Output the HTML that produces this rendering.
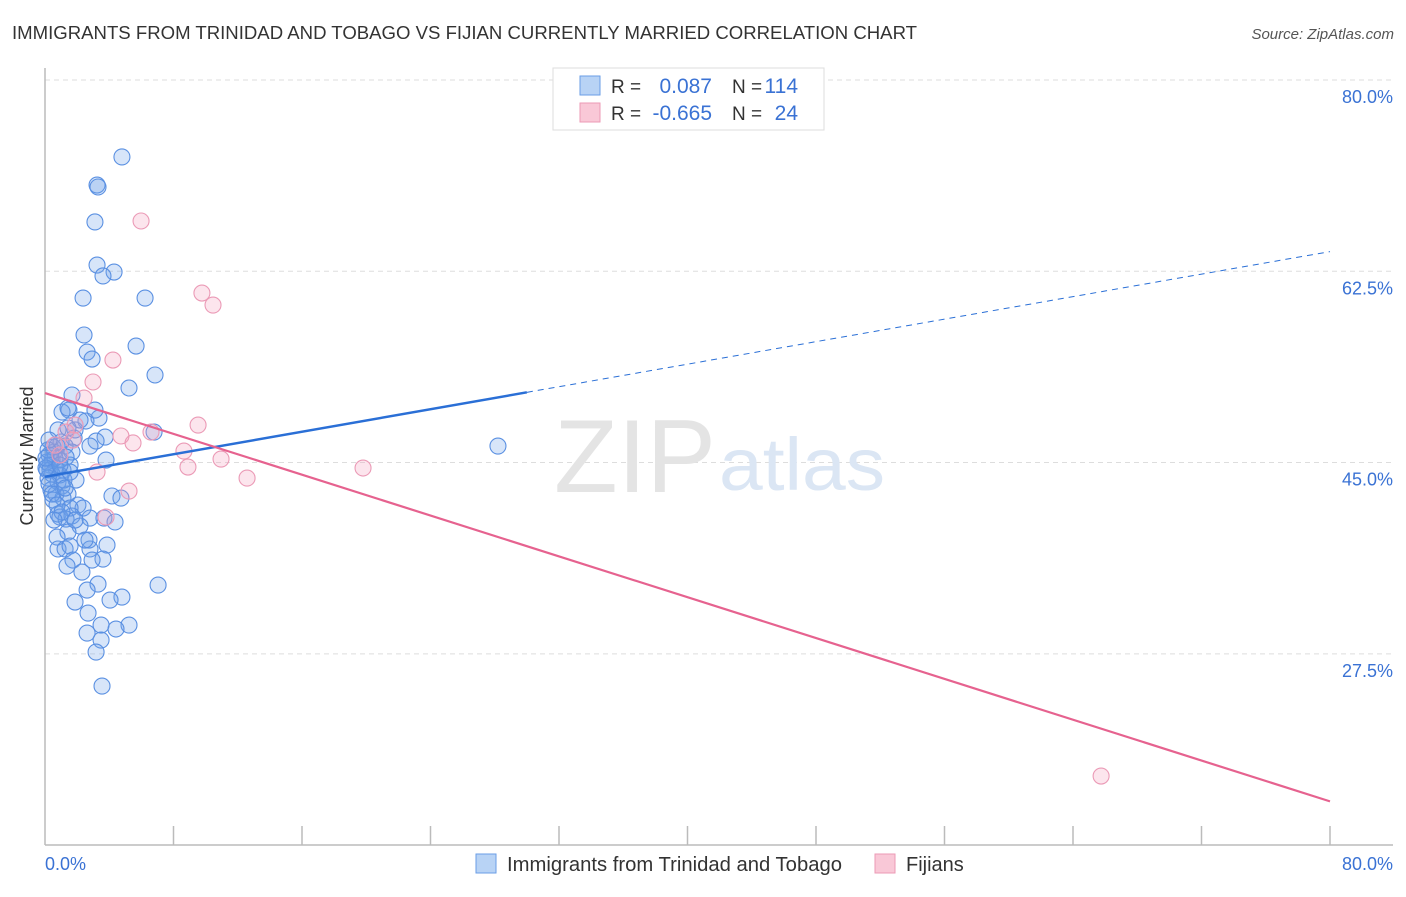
<!DOCTYPE html>
<html><head><meta charset="utf-8"><style>
body{margin:0;background:#fff;font-family:"Liberation Sans",sans-serif;}
svg text{font-family:"Liberation Sans",sans-serif;}
</style></head><body>
<svg id="chart" width="1406" height="892" xmlns="http://www.w3.org/2000/svg">
<text x="12" y="39" font-size="18" fill="#333" textLength="905" lengthAdjust="spacingAndGlyphs">IMMIGRANTS FROM TRINIDAD AND TOBAGO VS FIJIAN CURRENTLY MARRIED CORRELATION CHART</text>
<text x="1394" y="39" font-size="15" fill="#555" font-style="italic" text-anchor="end">Source: ZipAtlas.com</text>
<g id="grid"></g>
<text x="716" y="492" font-size="104" fill="#e4e4e4" text-anchor="end" font-family="Liberation Serif" textLength="162" lengthAdjust="spacingAndGlyphs">ZIP</text>
<text x="719" y="490" font-size="74" fill="#dbe6f4" textLength="166" lengthAdjust="spacingAndGlyphs">atlas</text>
<g id="axes"></g>
<g id="marks"></g>
<text transform="translate(33,456) rotate(-90)" font-size="18" fill="#333" text-anchor="middle">Currently Married</text>
<g>
<rect x="553" y="68" width="271" height="62" fill="#fff" stroke="#ddd"/>
<rect x="580" y="76" width="20" height="19" fill="#b8d3f5" stroke="#6a9ee6"/>
<rect x="580" y="103" width="20" height="19" fill="#f9c8d7" stroke="#ec9ab6"/>
<text x="611" y="93" font-size="19" fill="#333">R =</text>
<text x="712" y="93" font-size="21" fill="#3a72d4" text-anchor="end">0.087</text>
<text x="732" y="93" font-size="19" fill="#333">N =</text>
<text x="798" y="93" font-size="21" fill="#3a72d4" text-anchor="end">114</text>
<text x="611" y="120" font-size="19" fill="#333">R =</text>
<text x="712" y="120" font-size="21" fill="#3a72d4" text-anchor="end">-0.665</text>
<text x="732" y="120" font-size="19" fill="#333">N =</text>
<text x="798" y="120" font-size="21" fill="#3a72d4" text-anchor="end">24</text>
</g>
<g>
<rect x="476" y="854" width="20" height="19" fill="#b8d3f5" stroke="#6a9ee6"/>
<text x="507" y="871" font-size="20" fill="#333" textLength="335" lengthAdjust="spacingAndGlyphs">Immigrants from Trinidad and Tobago</text>
<rect x="875" y="854" width="20" height="19" fill="#f9c8d7" stroke="#ec9ab6"/>
<text x="906" y="871" font-size="20" fill="#333">Fijians</text>
</g>
</svg>
<script>
const yTicks=[80,62.5,45,27.5];
const xTickLabels=["0.0%","80.0%"];
const blueX=[4.79,3.24,3.3,3.11,3.24,4.3,3.61,2.37,6.23,2.43,5.67,2.62,2.93,6.85,5.23,1.68,1.49,1.06,1.43,3.36,2.55,6.79,1.81,3.74,3.18,2.8,0.75,1.25,28.2,0.56,1.68,0.25,0.44,0.93,3.8,0.31,1.56,0.68,0.12,1.12,0.44,0.19,1.93,0.81,1.06,0.37,0.68,1.43,1.12,4.17,4.73,0.5,2.05,2.37,1.56,0.81,0.93,1.68,2.8,3.67,4.36,1.31,2.18,1.43,0.75,2.74,3.86,0.81,1.25,2.8,1.56,3.61,1.74,1.37,2.3,3.3,7.04,2.62,4.79,1.87,2.68,3.49,5.23,2.62,4.42,3.49,3.18,3.55,0.12,0.31,0.5,0.62,0.19,0.93,1.31,0.25,0.44,1.18,1.56,0.81,1.0,1.87,2.18,3.11,1.43,0.75,1.06,1.87,2.49,2.93,4.05,0.56,0.06,0.06,0.25,0.93,1.25];
const blueY=[72.96,70.39,70.21,67.01,63.07,62.43,62.07,60.05,60.05,56.67,55.66,55.11,54.47,53.01,51.82,51.18,49.8,49.62,49.99,49.07,48.8,47.79,47.24,47.33,46.97,46.51,46.51,46.51,46.51,45.96,45.96,45.69,45.23,45.23,45.23,44.77,44.77,44.5,44.32,44.32,43.95,43.58,43.4,43.22,42.85,42.49,42.12,42.12,41.75,41.94,41.75,41.57,41.11,40.84,40.84,40.29,40.01,40.11,39.92,39.92,39.56,39.83,39.19,38.64,38.18,37.91,37.45,37.09,37.09,37.09,37.36,36.17,36.08,35.53,34.98,33.88,33.79,33.33,32.69,32.24,31.23,30.13,30.13,29.4,29.77,28.76,27.66,24.55,45.05,44.32,46.42,45.41,46.15,43.86,45.5,43.03,42.12,43.4,44.13,47.98,46.88,47.98,48.89,49.8,48.16,41.11,40.47,39.74,37.91,36.08,32.42,39.74,44.5,45.41,47.06,44.77,42.67];
const pinkX=[5.98,9.77,10.46,4.23,2.99,2.43,1.87,1.74,9.53,6.6,4.73,5.48,8.65,8.9,10.96,12.58,19.8,3.24,5.23,3.8,65.75,0.62,0.93,1.31];
const pinkY=[67.1,60.51,59.41,54.38,52.37,50.9,48.43,47.06,48.43,47.79,47.43,46.79,46.05,44.59,45.32,43.58,44.5,44.13,42.39,40.01,16.32,46.6,45.69,47.79];
const blueTrend=[43.7,64.3]; const blueSolidEnd=30;
const pinkTrend=[51.36,14.0];

const NS="http://www.w3.org/2000/svg";
const X0=45,X1=1330,Y80=80,PXPER=10.93;
function sx(v){return X0+(X1-X0)*v/80;}
function sy(v){return Y80+(80-v)*PXPER;}
function mk(parent,tag,attrs){const e=document.createElementNS(NS,tag);for(const k in attrs)e.setAttribute(k,attrs[k]);document.getElementById(parent).appendChild(e);return e;}
yTicks.forEach(t=>{
  const l=mk('grid','line',{x1:45,x2:1393,y1:sy(t),y2:sy(t),stroke:'#ddd','stroke-dasharray':'5,4'});
  
  
  const tx=mk('grid','text',{x:1393,y:sy(t)+23,'font-size':18,fill:'#3a72d4','text-anchor':'end'});
  tx.textContent=t.toFixed(1)+'%';
  
  
});
let a=mk('axes','line',{x1:45,x2:45,y1:68,y2:845,stroke:'#bbb','stroke-width':1.5});


a=mk('axes','line',{x1:45,x2:1393,y1:845,y2:845,stroke:'#bbb','stroke-width':1.5});


for(let i=1;i<=10;i++){const v=i*8;const t=mk('axes','line',{x1:sx(v),x2:sx(v),y1:826,y2:845,stroke:'#bbb','stroke-width':1.5});
  
  }
let xl=mk('axes','text',{x:45,y:870,'font-size':18,fill:'#3a72d4'});xl.textContent=xTickLabels[0];


xl=mk('axes','text',{x:1393,y:870,'font-size':18,fill:'#3a72d4','text-anchor':'end'});xl.textContent=xTickLabels[1];


blueX.forEach((x,i)=>{const c=mk('marks','circle',{cx:sx(x),cy:sy(blueY[i]),r:8,fill:'rgba(110,160,235,0.28)',stroke:'#5a90e2','stroke-width':1.1});
  
  });
pinkX.forEach((x,i)=>{const c=mk('marks','circle',{cx:sx(x),cy:sy(pinkY[i]),r:8,fill:'rgba(245,160,190,0.28)',stroke:'#eb9ab6','stroke-width':1.1});
  
  });
function trendAt(t,v){return t[0]+(t[1]-t[0])*v/80;}
let ln=mk('marks','line',{x1:sx(0),y1:sy(trendAt(blueTrend,0)),x2:sx(blueSolidEnd),y2:sy(trendAt(blueTrend,blueSolidEnd)),stroke:'#2a6fd6','stroke-width':2.5});


ln=mk('marks','line',{x1:sx(blueSolidEnd),y1:sy(trendAt(blueTrend,blueSolidEnd)),x2:sx(80),y2:sy(trendAt(blueTrend,80)),stroke:'#2a6fd6','stroke-width':1,'stroke-dasharray':'6,5'});


ln=mk('marks','line',{x1:sx(0),y1:sy(pinkTrend[0]),x2:sx(80),y2:sy(pinkTrend[1]),stroke:'#e6628f','stroke-width':2.2});


</script>
</body></html>
